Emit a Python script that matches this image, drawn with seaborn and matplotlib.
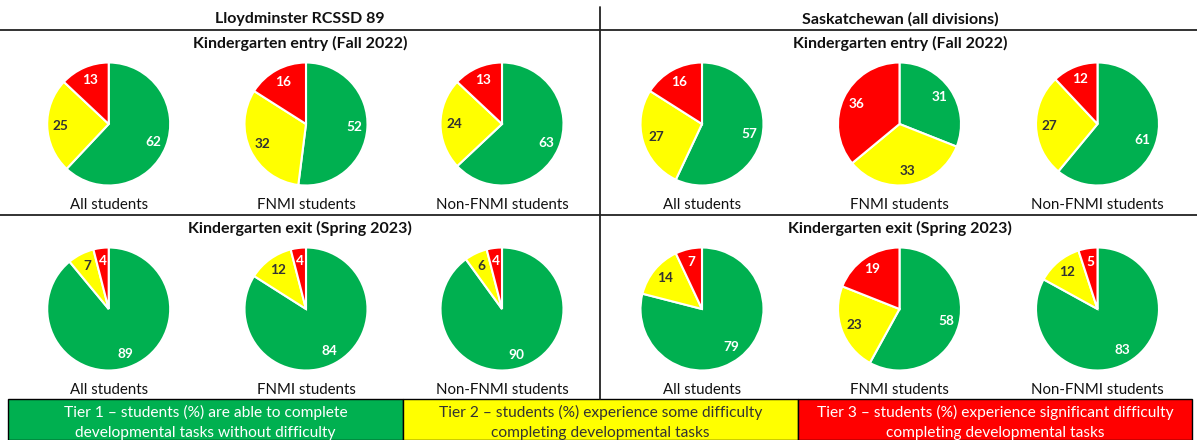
import matplotlib
matplotlib.use("Agg")
import matplotlib.pyplot as plt
import seaborn as sns
from matplotlib.lines import Line2D
from matplotlib.patches import Rectangle

# ---------------- data ----------------
regions = ["Lloydminster RCSSD 89", "Saskatchewan (all divisions)"]
periods = ["Kindergarten entry (Fall 2022)", "Kindergarten exit (Spring 2023)"]
groups = ["All students", "FNMI students", "Non-FNMI students"]

lloyd_entry_tier1 = [62, 52, 63]
lloyd_entry_tier2 = [25, 32, 24]
lloyd_entry_tier3 = [13, 16, 13]

lloyd_exit_tier1 = [89, 84, 90]
lloyd_exit_tier2 = [7, 12, 6]
lloyd_exit_tier3 = [4, 4, 4]

sask_entry_tier1 = [57, 31, 61]
sask_entry_tier2 = [27, 33, 27]
sask_entry_tier3 = [16, 36, 12]

sask_exit_tier1 = [79, 58, 83]
sask_exit_tier2 = [14, 23, 12]
sask_exit_tier3 = [7, 19, 5]

tier_lines = [
    ["Tier 1 \u2013 students (%) are able to complete",
     "developmental tasks without difficulty"],
    ["Tier 2 \u2013 students (%) experience some difficulty",
     "completing developmental tasks"],
    ["Tier 3 \u2013 students (%) experience significant difficulty",
     "completing developmental tasks"],
]
tier_colors = ["#00B050", "#FFFF00", "#FF0000"]
tier_text_colors = ["white", "#333333", "white"]

# ---------------- layout ----------------
sns.set_theme(style="white")
plt.rcParams["font.family"] = ["Lato", "DejaVu Sans"]
palette = sns.color_palette(tier_colors)

W, H = 1197, 440
fig = plt.figure(figsize=(W / 100, H / 100), dpi=100)
fig.patch.set_facecolor("white")


def fx(x):
    return x / W


def fy(y):
    return 1 - y / H


R = 61.5
panel_x = [[108.7, 306, 502], [702, 899.5, 1097.5]]
row_cy = [124, 309]
row_title_y = [43, 228]
row_label_y = [205, 390]
panel_center = [300, 900]

data = {
    (0, 0): (lloyd_entry_tier1, lloyd_entry_tier2, lloyd_entry_tier3),
    (0, 1): (lloyd_exit_tier1, lloyd_exit_tier2, lloyd_exit_tier3),
    (1, 0): (sask_entry_tier1, sask_entry_tier2, sask_entry_tier3),
    (1, 1): (sask_exit_tier1, sask_exit_tier2, sask_exit_tier3),
}

for p in range(2):
    fig.text(fx(panel_center[p]), fy(19), regions[p], ha="center", va="center",
             fontsize=11.5, fontweight="bold", color="#111111")
    for r in range(2):
        fig.text(fx(panel_center[p]), fy(row_title_y[r]), periods[r], ha="center",
                 va="center", fontsize=11.5, fontweight="bold", color="#111111")
        t1, t2, t3 = data[(p, r)]
        for g in range(3):
            cx, cy = panel_x[p][g], row_cy[r]
            ax = fig.add_axes([fx(cx - R), fy(cy + R), 2 * R / W, 2 * R / H])
            vals = [t1[g], t2[g], t3[g]]
            wedges, texts = ax.pie(
                vals, colors=palette, startangle=90, counterclock=False,
                labels=[str(v) for v in vals], labeldistance=0.78,
                wedgeprops=dict(edgecolor="white", linewidth=1.5),
                textprops=dict(fontsize=9.8, fontweight="bold"),
            )
            for t, c in zip(texts, tier_text_colors):
                t.set_color(c)
                t.set_ha("center")
                t.set_va("center")
            ax.set_xlim(-1.0, 1.0)
            ax.set_ylim(-1.0, 1.0)
            ax.set_axis_off()
            fig.text(fx(cx), fy(row_label_y[r]), groups[g], ha="center", va="center",
                     fontsize=10.8, color="#111111")

# divider lines
line_kw = dict(transform=fig.transFigure, color="#222222", linewidth=1.3)
fig.add_artist(Line2D([0, 1], [fy(30.5), fy(30.5)], **line_kw))
fig.add_artist(Line2D([0, 1], [fy(215), fy(215)], **line_kw))
fig.add_artist(Line2D([fx(600), fx(600)], [fy(7), fy(399)], **line_kw))

# legend boxes
edges = [8, 403, 798, 1192]
for i in range(3):
    rect = Rectangle((fx(edges[i]), 0), (edges[i + 1] - edges[i]) / W, fy(399),
                     transform=fig.transFigure, facecolor=palette[i],
                     edgecolor="black", linewidth=1.0)
    fig.add_artist(rect)
    xc = fx((edges[i] + edges[i + 1]) / 2)
    for line, yy in zip(tier_lines[i], [412.5, 432.5]):
        fig.text(xc, fy(yy), line, ha="center", va="center",
                 fontsize=11.2, color=tier_text_colors[i])

fig.savefig("out.png", dpi=100, facecolor="white")
